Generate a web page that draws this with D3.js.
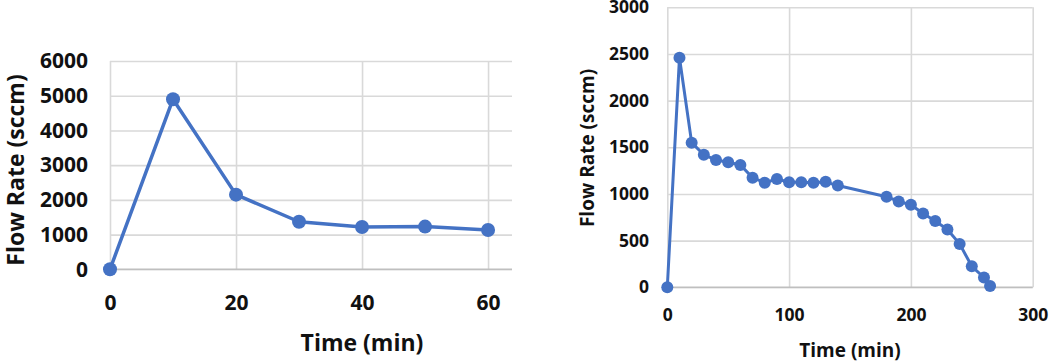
<!DOCTYPE html>
<html>
<head>
<meta charset="utf-8">
<script src="https://cdn.jsdelivr.net/npm/d3@7"></script>
<style>
  body { margin: 0; background: #fff; }
  svg text { font-family: "Open Sans", "Noto Sans", sans-serif; font-weight: 700; fill: #111; }
</style>
</head>
<body>
<div class="chart-canvas"></div>
<script>
// left chart: short run
const leftTime = [0, 10, 20, 30, 40, 50, 60];
const leftFlow = [0, 4900, 2150, 1370, 1220, 1230, 1130];
const leftXTicks = [0, 20, 40, 60];
const leftYTicks = [0, 1000, 2000, 3000, 4000, 5000, 6000];

// right chart: long run
const rightTime = [0, 10, 20, 30, 40, 50, 60, 70, 80, 90, 100, 110, 120, 130, 140,
    180, 190, 200, 210, 220, 230, 240, 250, 260, 265];
const rightFlow = [0, 2460, 1550, 1420, 1365, 1340, 1310, 1175, 1120, 1160, 1125, 1125, 1120, 1130, 1090,
    970, 920, 885, 790, 710, 620, 465, 225, 105, 15];
const rightXTicks = [0, 100, 200, 300];
const rightYTicks = [0, 500, 1000, 1500, 2000, 2500, 3000];

const blue = '#4472C4';
const fmt = d3.format('d');

const svg = d3.select('.chart-canvas')
    .append('svg')
    .attr('width', 1050)
    .attr('height', 362);

const drawChart = (opt) => {
    const x = d3.scaleLinear().domain(opt.xDomain).range([opt.left, opt.right]);
    const y = d3.scaleLinear().domain(opt.yDomain).range([opt.bottom, opt.top]);
    const g = svg.append('g');

    // grid
    g.append('g')
        .attr('transform', `translate(0, ${opt.bottom})`)
        .call(d3.axisBottom(x).tickValues(opt.xTicks).tickSize(-(opt.bottom - opt.top)).tickFormat(''))
        .call(a => a.select('.domain').remove())
        .selectAll('line').attr('stroke', '#d9d9d9').attr('stroke-width', 1.6);

    g.append('g')
        .attr('transform', `translate(${opt.left}, 0)`)
        .call(d3.axisLeft(y).tickValues(opt.yTicks).tickSize(-(opt.right - opt.left)).tickFormat(''))
        .call(a => a.select('.domain').remove())
        .selectAll('line').attr('stroke', '#d9d9d9').attr('stroke-width', 1.6);

    // baseline axis line
    g.append('line')
        .attr('x1', opt.left).attr('x2', opt.right)
        .attr('y1', y(0)).attr('y2', y(0))
        .attr('stroke', '#bfbfbf').attr('stroke-width', 1.6);

    // tick labels
    g.append('g')
        .attr('transform', `translate(${opt.left}, 0)`)
        .call(d3.axisLeft(y).tickValues(opt.yTicks).tickFormat(fmt).tickSize(0).tickPadding(opt.left - opt.yLabelX))
        .call(a => a.select('.domain').remove())
        .selectAll('text')
            .attr('font-size', opt.tickSize)
            .attr('font-family', null)
            .attr('fill', null);

    g.append('g')
        .attr('transform', `translate(0, ${opt.bottom})`)
        .call(d3.axisBottom(x).tickValues(opt.xTicks).tickFormat(fmt).tickSize(0))
        .call(a => a.select('.domain').remove())
        .selectAll('text')
            .attr('y', opt.xLabelY - opt.bottom)
            .attr('dy', '0.35em')
            .attr('font-size', opt.tickSize)
            .attr('font-family', null)
            .attr('fill', null);

    // axis titles
    g.append('text')
        .attr('x', opt.xTitle[0]).attr('y', opt.xTitle[1])
        .attr('dy', '0.35em')
        .attr('text-anchor', 'middle')
        .attr('font-size', opt.titleSize)
        .text('Time (min)');

    g.append('text')
        .attr('transform', `translate(${opt.yTitle[0]}, ${opt.yTitle[1]}) rotate(-90)`)
        .attr('dy', '0.35em')
        .attr('text-anchor', 'middle')
        .attr('font-size', opt.titleSize)
        .text('Flow Rate (sccm)');

    // series
    const pts = opt.xs.map((d, i) => [d, opt.ys[i]]);
    const line = d3.line().x(d => x(d[0])).y(d => y(d[1]));

    g.append('path')
        .datum(pts)
        .attr('d', line)
        .attr('fill', 'none')
        .attr('stroke', blue)
        .attr('stroke-width', opt.lineWidth)
        .attr('stroke-linejoin', 'round');

    g.selectAll('circle')
        .data(pts)
        .enter()
        .append('circle')
            .attr('cx', d => x(d[0]))
            .attr('cy', d => y(d[1]))
            .attr('r', opt.r)
            .attr('fill', blue);
};

drawChart({
    xs: leftTime, ys: leftFlow,
    xTicks: leftXTicks, yTicks: leftYTicks,
    xDomain: [0, 63.8], yDomain: [0, 6000],
    left: 110, right: 512, top: 61, bottom: 269.3,
    yLabelX: 88, xLabelY: 303,
    tickSize: 21, titleSize: 23,
    xTitle: [362, 343], yTitle: [16, 170],
    lineWidth: 3.5, r: 7
});

drawChart({
    xs: rightTime, ys: rightFlow,
    xTicks: rightXTicks, yTicks: rightYTicks,
    xDomain: [0, 300], yDomain: [0, 3000],
    left: 667.3, right: 1032.7, top: 7.3, bottom: 287.3,
    yLabelX: 649, xLabelY: 315,
    tickSize: 17.5, titleSize: 19,
    xTitle: [850, 350], yTitle: [587, 148],
    lineWidth: 3, r: 6
});
</script>
</body>
</html>
